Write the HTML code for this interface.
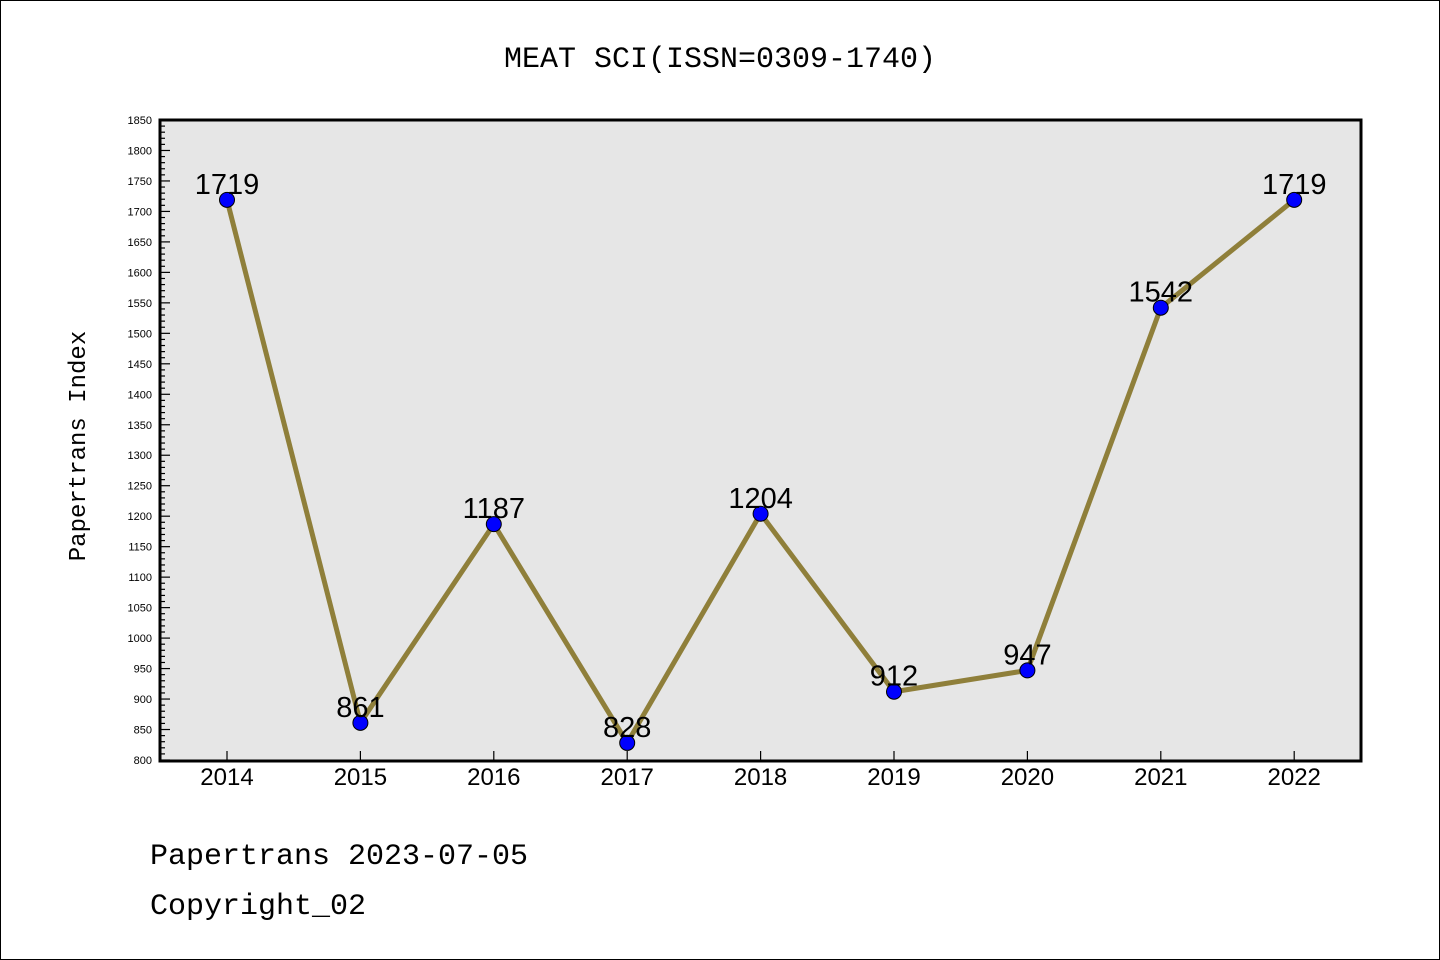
<!DOCTYPE html>
<html><head><meta charset="utf-8"><style>
html,body{margin:0;padding:0;background:#fff}
svg{display:block;font-family:"Liberation Mono","DejaVu Sans Mono",monospace}
</style></head><body>
<svg id="c" width="1440" height="960" viewBox="0 0 1440 960">
<rect x="0.5" y="0.5" width="1439" height="959" fill="#fff" stroke="#000"/>
<text x="720" y="67" text-anchor="middle" font-size="30">MEAT SCI(ISSN=0309-1740)</text>
<rect x="160" y="120" width="1201" height="641" fill="#e6e6e6"/>
<g id="yax"></g>
<g id="xax"></g>
<g id="series"></g>
<rect x="160" y="120" width="1201" height="641" fill="none" stroke="#000" stroke-width="3"/>
<text transform="translate(85,446) rotate(-90)" text-anchor="middle" font-size="24">Papertrans Index</text>
<text x="150" y="864" font-size="30">Papertrans 2023-07-05</text>
<text x="150" y="914" font-size="30">Copyright_02</text>
</svg>
<script>
const categories=["2014","2015","2016","2017","2018","2019","2020","2021","2022"];
const values=[1719,861,1187,828,1204,912,947,1542,1719];
const yTicks=[800,850,900,950,1000,1050,1100,1150,1200,1250,1300,1350,1400,1450,1500,1550,1600,1650,1700,1750,1800,1850];
const NS="http://www.w3.org/2000/svg";
const yMin=800,yMax=1850,plotTop=120,plotBot=760;
function y(v){return plotBot-(v-yMin)/(yMax-yMin)*(plotBot-plotTop);}
function x(i){return 227+i*133.4;}
function mk(t,a,p){const e=document.createElementNS(NS,t);for(const k in a)e.setAttribute(k,a[k]);p.appendChild(e);return e;}
const yax=document.getElementById('yax');
for(let v=yMin;v<=yMax;v+=10){
  const isMaj=v%50===0;
  const l=mk('line',{x1:160,x2:160+(isMaj?10:5),y1:y(v),y2:y(v),stroke:'#000','stroke-width':1.2},yax);
  
  
}
yTicks.forEach(v=>{
  const t=mk('text',{x:152,y:y(v)+4,'text-anchor':'end','font-size':11,'font-family':'Liberation Sans, sans-serif'},yax);
  t.textContent=v;
  
  
});
const xax=document.getElementById('xax');
categories.forEach((c,i)=>{
  const l=mk('line',{x1:x(i),x2:x(i),y1:761,y2:751,stroke:'#000','stroke-width':1.2},xax);
  
  
  const t=mk('text',{x:x(i),y:785,'text-anchor':'middle','font-size':24,'font-family':'Liberation Sans, sans-serif'},xax);
  t.textContent=c;
  
  
});
const s=document.getElementById('series');
const pl=mk('polyline',{points:values.map((v,i)=>x(i)+','+y(v)).join(' '),fill:'none',stroke:'#8f7f3a','stroke-width':5,'stroke-linejoin':'round'},s);


values.forEach((v,i)=>{
  const c=mk('circle',{cx:x(i),cy:y(v),r:7.5,fill:'#0000ff',stroke:'#000','stroke-width':1},s);
  
  
  const t=mk('text',{x:x(i),y:y(v)-6,'text-anchor':'middle','font-size':29,'font-family':'Liberation Sans, sans-serif'},s);
  t.textContent=v;
  
  
});
</script>
</body></html>
